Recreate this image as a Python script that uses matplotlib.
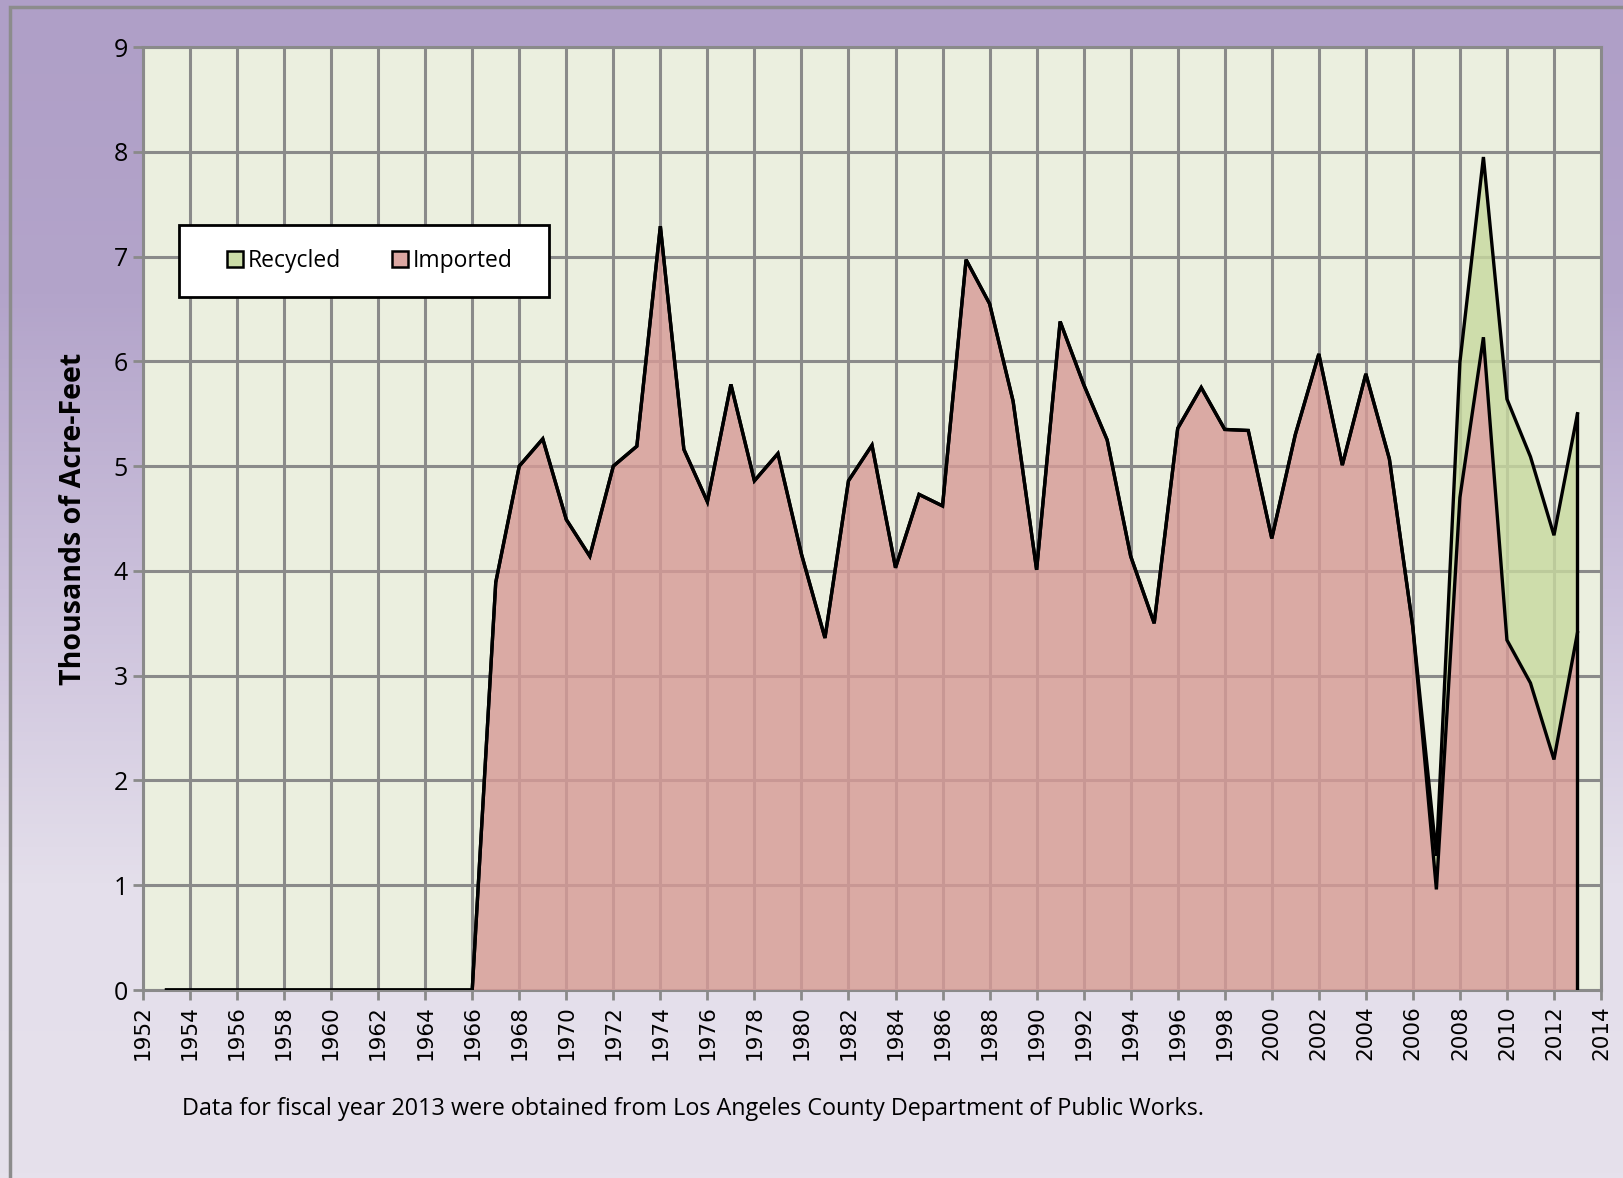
import numpy as np
import matplotlib
matplotlib.use("Agg")
import matplotlib.pyplot as plt
from matplotlib.patches import Rectangle, Patch
from matplotlib.colors import LinearSegmentedColormap

years = list(range(1953, 2014))
imported = [0]*13 + [
    0.00, 3.89, 5.00, 5.26, 4.49, 4.14, 5.00, 5.19, 7.29, 5.16,   # 1966-1975
    4.66, 5.78, 4.86, 5.12, 4.16, 3.36, 4.86, 5.20, 4.03, 4.73,   # 1976-1985
    4.62, 6.97, 6.55, 5.62, 4.01, 6.38, 5.78, 5.25, 4.14, 3.50,   # 1986-1995
    5.36, 5.75, 5.35, 5.34, 4.31, 5.30, 6.07, 5.01, 5.88, 5.07,   # 1996-2005
    3.46, 0.96, 4.70, 6.23, 3.34, 2.93, 2.20, 3.41]               # 2006-2013
recycled = [0]*54 + [0.32, 1.29, 1.72, 2.30, 2.16, 2.14, 2.09]   # 2007-2013
xtick_years = list(range(1952, 2015, 2))
ytick_vals = list(range(0, 10))

W, H = 1623, 1178
fig = plt.figure(figsize=(W/100, H/100), dpi=100)

# background gradient
bg = fig.add_axes([0, 0, 1, 1], zorder=-10)
cmap = LinearSegmentedColormap.from_list("bg", ["#AF9FC7", "#B3A4CA", "#CBC0DB", "#E4DFEB", "#E6E1EC"], N=256)
grad = np.linspace(0, 1, 256).reshape(-1, 1)
bg.imshow(grad, aspect="auto", cmap=cmap, extent=[0, 1, 0, 1], origin="upper")
bg.set_xlim(0, 1); bg.set_ylim(0, 1)
bg.axis("off")
bg.add_patch(Rectangle((10/W, -0.02), 1.02, 1 - 7/H + 0.02, fill=False,
                       edgecolor="#8C8C8C", linewidth=2.5, transform=bg.transAxes))

L, R, T, B = 143, 1601, 47, 990
ax = fig.add_axes([L/W, 1 - B/H, (R-L)/W, (B-T)/H])
ax.set_facecolor("#EBEFDF")
ax.set_xlim(1952, 2014)
ax.set_ylim(0, 9)
ax.set_xticks(xtick_years)
ax.set_xticklabels([str(y) for y in xtick_years], rotation=90, fontsize=15.5,
                   family="DejaVu Sans")
ax.set_yticks(ytick_vals)
ax.set_yticklabels([str(v) for v in ytick_vals], fontsize=18, family="Open Sans")
ax.grid(True, color="#8A8A8A", linewidth=2.2)
ax.set_axisbelow(True)
for s in ax.spines.values():
    s.set_color("#8A8A8A"); s.set_linewidth(2.2)
ax.tick_params(axis="both", color="#8A8A8A", width=2, length=7, pad=4)

yrs = np.array(years, dtype=float)
imp = np.array(imported)
tot = imp + np.array(recycled)
ax.fill_between(yrs, 0, imp, facecolor="#D79B97", alpha=0.82, linewidth=0, zorder=3)
ax.fill_between(yrs, imp, tot, facecolor="#C8D9A0", alpha=0.82, linewidth=0, zorder=3)
ax.plot(yrs, imp, color="black", linewidth=2.4, zorder=5, solid_joinstyle="miter")
ax.plot(yrs, tot, color="black", linewidth=2.4, zorder=5, solid_joinstyle="miter")
ax.plot([yrs[-1], yrs[-1]], [0, tot[-1]], color="black", linewidth=2.4, zorder=5)

ax.set_ylabel("Thousands of Acre-Feet", fontsize=20.5, fontweight="bold",
              family="Open Sans", labelpad=18)

# legend frame placed exactly
lx0, ly0, lx1, ly1 = 179, 225, 549, 297
fx0 = (lx0 - L)/(R - L); fx1 = (lx1 - L)/(R - L)
fy0 = 1 - (ly1 - T)/(B - T); fy1 = 1 - (ly0 - T)/(B - T)
ax.add_patch(Rectangle((fx0, fy0), fx1 - fx0, fy1 - fy0, transform=ax.transAxes,
                       facecolor="white", edgecolor="black", linewidth=2, zorder=9))
handles = [Patch(facecolor="#CCDDA8", edgecolor="black", linewidth=1.8, label="Recycled"),
           Patch(facecolor="#DBA7A2", edgecolor="black", linewidth=1.8, label="Imported")]
leg = ax.legend(handles=handles, loc="center", ncol=2, frameon=False,
                bbox_to_anchor=((fx0 + fx1)/2 + 0.004, (fy0 + fy1)/2),
                prop={"family": "Open Sans", "size": 16.5}, handlelength=0.7,
                handleheight=0.7, handletextpad=0.2, columnspacing=2.2,
                borderpad=0, borderaxespad=0)
leg.set_zorder(10)

fig.text(182/W, 1 - 1109/H,
         "Data for fiscal year 2013 were obtained from Los Angeles County Department of Public Works.",
         fontsize=16.8, family="Open Sans", va="center", ha="left")

fig.savefig("out.png", dpi=100)
